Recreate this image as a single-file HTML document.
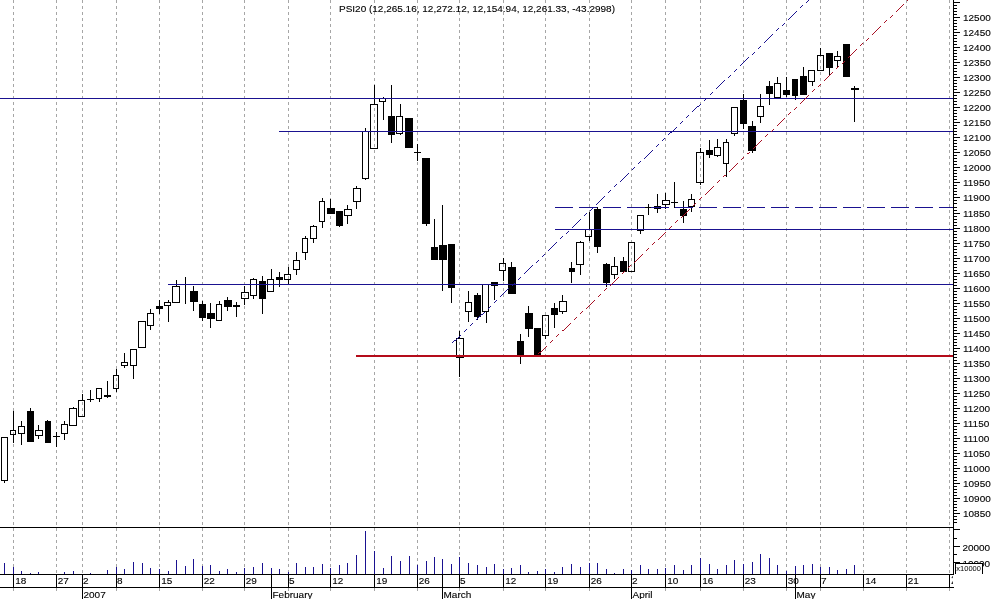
<!DOCTYPE html>
<html><head><meta charset="utf-8"><title>PSI20</title>
<style>html,body{margin:0;padding:0;background:#fff;}body{width:994px;height:599px;overflow:hidden;position:relative;font-family:"Liberation Sans",sans-serif;}</style>
</head><body>
<svg width="994" height="599" viewBox="0 0 994 599" style="position:absolute;left:0;top:0;will-change:transform;filter:blur(0.3px)">
<rect x="0" y="0" width="994" height="599" fill="#fff"/>
<g shape-rendering="crispEdges" stroke="#a6a6a6" stroke-width="1" stroke-dasharray="3 3">
<line x1="13.5" y1="0" x2="13.5" y2="591"/>
<line x1="56.5" y1="0" x2="56.5" y2="591"/>
<line x1="82.5" y1="0" x2="82.5" y2="591"/>
<line x1="116.5" y1="0" x2="116.5" y2="591"/>
<line x1="159.5" y1="0" x2="159.5" y2="591"/>
<line x1="202.5" y1="0" x2="202.5" y2="591"/>
<line x1="244.5" y1="0" x2="244.5" y2="591"/>
<line x1="288.5" y1="0" x2="288.5" y2="591"/>
<line x1="330.5" y1="0" x2="330.5" y2="591"/>
<line x1="374.5" y1="0" x2="374.5" y2="591"/>
<line x1="417.5" y1="0" x2="417.5" y2="591"/>
<line x1="459.5" y1="0" x2="459.5" y2="591"/>
<line x1="503.5" y1="0" x2="503.5" y2="591"/>
<line x1="545.5" y1="0" x2="545.5" y2="591"/>
<line x1="589.5" y1="0" x2="589.5" y2="591"/>
<line x1="631.5" y1="0" x2="631.5" y2="591"/>
<line x1="665.5" y1="0" x2="665.5" y2="591"/>
<line x1="700.5" y1="0" x2="700.5" y2="591"/>
<line x1="743.5" y1="0" x2="743.5" y2="591"/>
<line x1="786.5" y1="0" x2="786.5" y2="591"/>
<line x1="820.5" y1="0" x2="820.5" y2="591"/>
<line x1="863.5" y1="0" x2="863.5" y2="591"/>
<line x1="906.5" y1="0" x2="906.5" y2="591"/>
<line x1="949.5" y1="0" x2="949.5" y2="591"/>
</g>
<g shape-rendering="crispEdges" stroke="#000" stroke-width="1">
<line x1="4.5" y1="481" x2="4.5" y2="483"/>
<rect x="1.5" y="437.5" width="6" height="43" fill="none"/>
<line x1="13.5" y1="411" x2="13.5" y2="430"/>
<line x1="13.5" y1="435" x2="13.5" y2="443"/>
<rect x="10.5" y="430.5" width="5" height="4" fill="none"/>
<line x1="21.5" y1="421" x2="21.5" y2="426"/>
<line x1="21.5" y1="434" x2="21.5" y2="445"/>
<rect x="18.5" y="426.5" width="6" height="7" fill="none"/>
<line x1="30.5" y1="408" x2="30.5" y2="411"/>
<rect x="27.5" y="411.5" width="6" height="30" fill="#000"/>
<line x1="38.5" y1="425" x2="38.5" y2="430"/>
<line x1="38.5" y1="436" x2="38.5" y2="439"/>
<rect x="35.5" y="430.5" width="7" height="5" fill="none"/>
<line x1="47.5" y1="420" x2="47.5" y2="421"/>
<rect x="45.5" y="421.5" width="5" height="21" fill="#000"/>
<line x1="56.5" y1="432" x2="56.5" y2="447"/>
<line x1="53" y1="436.5" x2="60" y2="436.5"/>
<line x1="64.5" y1="421" x2="64.5" y2="424"/>
<line x1="64.5" y1="434" x2="64.5" y2="440"/>
<rect x="61.5" y="424.5" width="6" height="9" fill="none"/>
<line x1="73.5" y1="407" x2="73.5" y2="408"/>
<rect x="69.5" y="408.5" width="7" height="17" fill="none"/>
<line x1="82.5" y1="394" x2="82.5" y2="400"/>
<rect x="78.5" y="400.5" width="6" height="16" fill="none"/>
<line x1="90.5" y1="390" x2="90.5" y2="402"/>
<line x1="87" y1="399.5" x2="94" y2="399.5"/>
<line x1="99.5" y1="399" x2="99.5" y2="402"/>
<rect x="96.5" y="388.5" width="5" height="10" fill="none"/>
<line x1="107.5" y1="381" x2="107.5" y2="398"/>
<rect x="104" y="395" width="7" height="2" fill="#000" stroke="none"/>
<line x1="116.5" y1="369" x2="116.5" y2="375"/>
<line x1="116.5" y1="389" x2="116.5" y2="392"/>
<rect x="113.5" y="375.5" width="5" height="13" fill="none"/>
<line x1="124.5" y1="353" x2="124.5" y2="362"/>
<line x1="124.5" y1="366" x2="124.5" y2="368"/>
<rect x="121.5" y="362.5" width="6" height="3" fill="none"/>
<line x1="133.5" y1="366" x2="133.5" y2="379"/>
<rect x="130.5" y="349.5" width="6" height="16" fill="none"/>
<rect x="138.5" y="321.5" width="7" height="26" fill="none"/>
<line x1="150.5" y1="309" x2="150.5" y2="313"/>
<line x1="150.5" y1="326" x2="150.5" y2="330"/>
<rect x="147.5" y="313.5" width="6" height="12" fill="none"/>
<line x1="159.5" y1="300" x2="159.5" y2="306"/>
<line x1="159.5" y1="309" x2="159.5" y2="314"/>
<rect x="156.5" y="306.5" width="6" height="2" fill="#000"/>
<line x1="168.5" y1="300" x2="168.5" y2="302"/>
<line x1="168.5" y1="306" x2="168.5" y2="322"/>
<rect x="164.5" y="302.5" width="6" height="3" fill="none"/>
<line x1="176.5" y1="280" x2="176.5" y2="286"/>
<rect x="172.5" y="286.5" width="7" height="16" fill="none"/>
<line x1="185.5" y1="277" x2="185.5" y2="304"/>
<line x1="193.5" y1="286" x2="193.5" y2="291"/>
<line x1="193.5" y1="302" x2="193.5" y2="311"/>
<rect x="190.5" y="291.5" width="7" height="10" fill="#000"/>
<line x1="202.5" y1="301" x2="202.5" y2="304"/>
<line x1="202.5" y1="318" x2="202.5" y2="321"/>
<rect x="199.5" y="304.5" width="6" height="13" fill="#000"/>
<line x1="210.5" y1="303" x2="210.5" y2="313"/>
<line x1="210.5" y1="319" x2="210.5" y2="328"/>
<rect x="207.5" y="313.5" width="7" height="5" fill="#000"/>
<line x1="219.5" y1="301" x2="219.5" y2="304"/>
<rect x="216.5" y="304.5" width="5" height="16" fill="none"/>
<line x1="227.5" y1="297" x2="227.5" y2="300"/>
<line x1="227.5" y1="307" x2="227.5" y2="311"/>
<rect x="224.5" y="300.5" width="7" height="6" fill="#000"/>
<line x1="236.5" y1="302" x2="236.5" y2="317"/>
<rect x="233" y="305" width="7" height="2" fill="#000" stroke="none"/>
<line x1="244.5" y1="286" x2="244.5" y2="292"/>
<line x1="244.5" y1="299" x2="244.5" y2="305"/>
<rect x="241.5" y="292.5" width="7" height="6" fill="none"/>
<line x1="253.5" y1="278" x2="253.5" y2="279"/>
<line x1="253.5" y1="296" x2="253.5" y2="299"/>
<rect x="250.5" y="279.5" width="6" height="16" fill="none"/>
<line x1="262.5" y1="276" x2="262.5" y2="281"/>
<line x1="262.5" y1="299" x2="262.5" y2="314"/>
<rect x="259.5" y="281.5" width="6" height="17" fill="#000"/>
<line x1="271.5" y1="269" x2="271.5" y2="279"/>
<rect x="267.5" y="279.5" width="6" height="12" fill="none"/>
<line x1="279.5" y1="272" x2="279.5" y2="277"/>
<line x1="279.5" y1="280" x2="279.5" y2="287"/>
<rect x="276.5" y="277.5" width="6" height="2" fill="#000"/>
<line x1="288.5" y1="267" x2="288.5" y2="274"/>
<line x1="288.5" y1="280" x2="288.5" y2="284"/>
<rect x="284.5" y="274.5" width="6" height="5" fill="none"/>
<line x1="296.5" y1="252" x2="296.5" y2="260"/>
<line x1="296.5" y1="270" x2="296.5" y2="275"/>
<rect x="293.5" y="260.5" width="6" height="9" fill="none"/>
<line x1="305.5" y1="236" x2="305.5" y2="238"/>
<line x1="305.5" y1="253" x2="305.5" y2="260"/>
<rect x="302.5" y="238.5" width="5" height="14" fill="none"/>
<line x1="313.5" y1="225" x2="313.5" y2="226"/>
<line x1="313.5" y1="239" x2="313.5" y2="243"/>
<rect x="310.5" y="226.5" width="6" height="12" fill="none"/>
<line x1="322.5" y1="198" x2="322.5" y2="201"/>
<line x1="322.5" y1="222" x2="322.5" y2="228"/>
<rect x="319.5" y="201.5" width="5" height="20" fill="none"/>
<line x1="330.5" y1="199" x2="330.5" y2="208"/>
<rect x="327.5" y="208.5" width="7" height="5" fill="#000"/>
<line x1="339.5" y1="226" x2="339.5" y2="227"/>
<rect x="336.5" y="211.5" width="6" height="14" fill="#000"/>
<line x1="347.5" y1="205" x2="347.5" y2="209"/>
<line x1="347.5" y1="216" x2="347.5" y2="224"/>
<rect x="344.5" y="209.5" width="7" height="6" fill="none"/>
<line x1="356.5" y1="186" x2="356.5" y2="188"/>
<line x1="356.5" y1="202" x2="356.5" y2="209"/>
<rect x="353.5" y="188.5" width="7" height="13" fill="none"/>
<line x1="365.5" y1="128" x2="365.5" y2="131"/>
<line x1="365.5" y1="179" x2="365.5" y2="180"/>
<rect x="362.5" y="131.5" width="6" height="47" fill="none"/>
<line x1="374.5" y1="85" x2="374.5" y2="104"/>
<rect x="370.5" y="104.5" width="7" height="44" fill="none"/>
<line x1="383.5" y1="97" x2="383.5" y2="98"/>
<line x1="383.5" y1="102" x2="383.5" y2="120"/>
<rect x="379.5" y="98.5" width="6" height="3" fill="none"/>
<line x1="391.5" y1="85" x2="391.5" y2="116"/>
<line x1="391.5" y1="135" x2="391.5" y2="143"/>
<rect x="388.5" y="116.5" width="6" height="18" fill="#000"/>
<line x1="400.5" y1="104" x2="400.5" y2="116"/>
<line x1="400.5" y1="134" x2="400.5" y2="135"/>
<rect x="396.5" y="116.5" width="6" height="17" fill="none"/>
<rect x="405.5" y="118.5" width="7" height="29" fill="#000"/>
<line x1="417.5" y1="144" x2="417.5" y2="161"/>
<line x1="414" y1="152.5" x2="421" y2="152.5"/>
<line x1="426.5" y1="224" x2="426.5" y2="226"/>
<rect x="422.5" y="158.5" width="7" height="65" fill="#000"/>
<line x1="434.5" y1="219" x2="434.5" y2="247"/>
<rect x="431.5" y="247.5" width="6" height="12" fill="#000"/>
<line x1="442.5" y1="205" x2="442.5" y2="245"/>
<line x1="442.5" y1="260" x2="442.5" y2="291"/>
<rect x="439.5" y="245.5" width="7" height="14" fill="#000"/>
<line x1="451.5" y1="288" x2="451.5" y2="303"/>
<rect x="448.5" y="244.5" width="6" height="43" fill="#000"/>
<line x1="459.5" y1="331" x2="459.5" y2="338"/>
<line x1="459.5" y1="358" x2="459.5" y2="377"/>
<rect x="456.5" y="338.5" width="7" height="19" fill="none"/>
<line x1="468.5" y1="291" x2="468.5" y2="302"/>
<line x1="468.5" y1="312" x2="468.5" y2="322"/>
<rect x="465.5" y="302.5" width="6" height="9" fill="none"/>
<line x1="477.5" y1="293" x2="477.5" y2="295"/>
<line x1="477.5" y1="317" x2="477.5" y2="320"/>
<rect x="474.5" y="295.5" width="6" height="21" fill="#000"/>
<line x1="486.5" y1="312" x2="486.5" y2="323"/>
<rect x="482.5" y="284.5" width="6" height="27" fill="none"/>
<line x1="494.5" y1="286" x2="494.5" y2="300"/>
<rect x="491.5" y="282.5" width="6" height="3" fill="#000"/>
<line x1="503.5" y1="258" x2="503.5" y2="263"/>
<line x1="503.5" y1="271" x2="503.5" y2="281"/>
<rect x="499.5" y="263.5" width="6" height="7" fill="none"/>
<line x1="511.5" y1="262" x2="511.5" y2="267"/>
<rect x="508.5" y="267.5" width="7" height="26" fill="#000"/>
<line x1="520.5" y1="334" x2="520.5" y2="341"/>
<line x1="520.5" y1="356" x2="520.5" y2="364"/>
<rect x="517.5" y="341.5" width="6" height="14" fill="#000"/>
<line x1="528.5" y1="306" x2="528.5" y2="313"/>
<line x1="528.5" y1="329" x2="528.5" y2="337"/>
<rect x="525.5" y="313.5" width="7" height="15" fill="#000"/>
<rect x="534.5" y="328.5" width="6" height="27" fill="#000"/>
<line x1="545.5" y1="336" x2="545.5" y2="339"/>
<rect x="542.5" y="315.5" width="6" height="20" fill="none"/>
<line x1="554.5" y1="303" x2="554.5" y2="308"/>
<line x1="554.5" y1="315" x2="554.5" y2="328"/>
<rect x="551.5" y="308.5" width="6" height="6" fill="#000"/>
<line x1="562.5" y1="295" x2="562.5" y2="301"/>
<line x1="562.5" y1="312" x2="562.5" y2="314"/>
<rect x="559.5" y="301.5" width="7" height="10" fill="none"/>
<line x1="571.5" y1="262" x2="571.5" y2="268"/>
<line x1="571.5" y1="272" x2="571.5" y2="283"/>
<rect x="569.5" y="268.5" width="5" height="3" fill="#000"/>
<line x1="580.5" y1="241" x2="580.5" y2="242"/>
<line x1="580.5" y1="265" x2="580.5" y2="275"/>
<rect x="576.5" y="242.5" width="7" height="22" fill="none"/>
<line x1="589.5" y1="212" x2="589.5" y2="229"/>
<line x1="589.5" y1="237" x2="589.5" y2="241"/>
<rect x="585.5" y="229.5" width="6" height="7" fill="none"/>
<line x1="597.5" y1="207" x2="597.5" y2="209"/>
<line x1="597.5" y1="247" x2="597.5" y2="253"/>
<rect x="594.5" y="209.5" width="6" height="37" fill="#000"/>
<line x1="606.5" y1="263" x2="606.5" y2="264"/>
<line x1="606.5" y1="283" x2="606.5" y2="287"/>
<rect x="603.5" y="264.5" width="6" height="18" fill="#000"/>
<line x1="614.5" y1="257" x2="614.5" y2="266"/>
<line x1="614.5" y1="275" x2="614.5" y2="279"/>
<rect x="611.5" y="266.5" width="6" height="8" fill="none"/>
<line x1="623.5" y1="257" x2="623.5" y2="261"/>
<rect x="620.5" y="261.5" width="6" height="10" fill="#000"/>
<rect x="628.5" y="242.5" width="6" height="29" fill="none"/>
<line x1="640.5" y1="231" x2="640.5" y2="234"/>
<rect x="637.5" y="215.5" width="6" height="15" fill="none"/>
<line x1="648.5" y1="204" x2="648.5" y2="215"/>
<line x1="645" y1="207.5" x2="652" y2="207.5"/>
<line x1="657.5" y1="194" x2="657.5" y2="206"/>
<line x1="657.5" y1="209" x2="657.5" y2="213"/>
<rect x="654.5" y="206.5" width="6" height="2" fill="#000"/>
<line x1="665.5" y1="193" x2="665.5" y2="200"/>
<line x1="665.5" y1="205" x2="665.5" y2="209"/>
<rect x="662.5" y="200.5" width="7" height="4" fill="none"/>
<line x1="674.5" y1="182" x2="674.5" y2="208"/>
<line x1="671" y1="202.5" x2="678" y2="202.5"/>
<line x1="683.5" y1="201" x2="683.5" y2="209"/>
<line x1="683.5" y1="216" x2="683.5" y2="223"/>
<rect x="680.5" y="209.5" width="6" height="6" fill="#000"/>
<line x1="691.5" y1="194" x2="691.5" y2="199"/>
<line x1="691.5" y1="207" x2="691.5" y2="212"/>
<rect x="688.5" y="199.5" width="6" height="7" fill="none"/>
<line x1="700.5" y1="148" x2="700.5" y2="152"/>
<line x1="700.5" y1="183" x2="700.5" y2="185"/>
<rect x="696.5" y="152.5" width="7" height="30" fill="none"/>
<line x1="709.5" y1="140" x2="709.5" y2="150"/>
<line x1="709.5" y1="155" x2="709.5" y2="158"/>
<rect x="706.5" y="150.5" width="6" height="4" fill="#000"/>
<line x1="717.5" y1="139" x2="717.5" y2="147"/>
<line x1="717.5" y1="156" x2="717.5" y2="157"/>
<rect x="714.5" y="147.5" width="6" height="8" fill="none"/>
<line x1="726.5" y1="139" x2="726.5" y2="142"/>
<line x1="726.5" y1="164" x2="726.5" y2="177"/>
<rect x="723.5" y="142.5" width="5" height="21" fill="none"/>
<line x1="734.5" y1="134" x2="734.5" y2="136"/>
<rect x="731.5" y="107.5" width="6" height="26" fill="none"/>
<line x1="743.5" y1="94" x2="743.5" y2="100"/>
<line x1="743.5" y1="124" x2="743.5" y2="129"/>
<rect x="740.5" y="100.5" width="6" height="23" fill="#000"/>
<line x1="752.5" y1="121" x2="752.5" y2="126"/>
<line x1="752.5" y1="151" x2="752.5" y2="153"/>
<rect x="748.5" y="126.5" width="7" height="24" fill="#000"/>
<line x1="760.5" y1="94" x2="760.5" y2="106"/>
<line x1="760.5" y1="117" x2="760.5" y2="123"/>
<rect x="757.5" y="106.5" width="6" height="10" fill="none"/>
<line x1="769.5" y1="81" x2="769.5" y2="86"/>
<line x1="769.5" y1="94" x2="769.5" y2="105"/>
<rect x="766.5" y="86.5" width="6" height="7" fill="#000"/>
<line x1="777.5" y1="77" x2="777.5" y2="83"/>
<rect x="774.5" y="83.5" width="6" height="14" fill="none"/>
<line x1="786.5" y1="77" x2="786.5" y2="90"/>
<line x1="786.5" y1="95" x2="786.5" y2="97"/>
<rect x="783.5" y="90.5" width="6" height="4" fill="#000"/>
<line x1="795.5" y1="96" x2="795.5" y2="100"/>
<rect x="792.5" y="79.5" width="5" height="16" fill="#000"/>
<line x1="803.5" y1="67" x2="803.5" y2="76"/>
<rect x="800.5" y="76.5" width="6" height="18" fill="#000"/>
<line x1="812.5" y1="82" x2="812.5" y2="86"/>
<rect x="808.5" y="70.5" width="6" height="11" fill="none"/>
<line x1="820.5" y1="48" x2="820.5" y2="55"/>
<rect x="817.5" y="55.5" width="6" height="15" fill="none"/>
<line x1="829.5" y1="68" x2="829.5" y2="76"/>
<rect x="826.5" y="53.5" width="6" height="14" fill="#000"/>
<line x1="837.5" y1="51" x2="837.5" y2="56"/>
<line x1="837.5" y1="61" x2="837.5" y2="68"/>
<rect x="834.5" y="56.5" width="6" height="4" fill="none"/>
<rect x="843.5" y="44.5" width="6" height="32" fill="#000"/>
<line x1="854.5" y1="86" x2="854.5" y2="122"/>
<rect x="851" y="88" width="8" height="2" fill="#000" stroke="none"/>
</g>
<g shape-rendering="crispEdges" stroke="#1a1290" stroke-width="1">
<line x1="0" y1="98.5" x2="953" y2="98.5"/>
<line x1="279" y1="131.5" x2="953" y2="131.5"/>
<line x1="555" y1="207.5" x2="953" y2="207.5" stroke-dasharray="18 6"/>
<line x1="555" y1="229.5" x2="953" y2="229.5"/>
<line x1="168" y1="284.5" x2="953" y2="284.5"/>
</g>
<path d="M452 342h1v1h-1zM453 341h1v1h-1zM454 340h1v1h-1zM455 340h1v1h-1zM456 339h1v1h-1zM457 338h1v1h-1zM458 337h1v1h-1zM459 336h1v1h-1zM460 335h1v1h-1zM464 331h1v1h-1zM465 330h1v1h-1zM466 329h1v1h-1zM470 325h1v1h-1zM471 324h1v1h-1zM472 323h1v1h-1zM476 319h1v1h-1zM477 318h1v1h-1zM478 317h1v1h-1zM479 316h1v1h-1zM480 315h1v1h-1zM481 314h1v1h-1zM482 314h1v1h-1zM483 313h1v1h-1zM484 312h1v1h-1zM488 308h1v1h-1zM489 307h1v1h-1zM490 306h1v1h-1zM494 302h1v1h-1zM495 301h1v1h-1zM496 300h1v1h-1zM500 296h1v1h-1zM501 295h1v1h-1zM502 294h1v1h-1zM503 293h1v1h-1zM504 292h1v1h-1zM505 291h1v1h-1zM506 290h1v1h-1zM507 289h1v1h-1zM508 288h1v1h-1zM512 285h1v1h-1zM513 284h1v1h-1zM514 283h1v1h-1zM518 279h1v1h-1zM519 278h1v1h-1zM520 277h1v1h-1zM524 273h1v1h-1zM525 272h1v1h-1zM526 271h1v1h-1zM527 270h1v1h-1zM528 269h1v1h-1zM529 268h1v1h-1zM530 267h1v1h-1zM531 266h1v1h-1zM532 265h1v1h-1zM536 262h1v1h-1zM537 261h1v1h-1zM538 260h1v1h-1zM542 256h1v1h-1zM543 255h1v1h-1zM544 254h1v1h-1zM548 250h1v1h-1zM549 249h1v1h-1zM550 248h1v1h-1zM551 247h1v1h-1zM552 246h1v1h-1zM553 245h1v1h-1zM554 244h1v1h-1zM555 243h1v1h-1zM556 242h1v1h-1zM560 238h1v1h-1zM561 237h1v1h-1zM562 236h1v1h-1zM566 233h1v1h-1zM567 232h1v1h-1zM568 231h1v1h-1zM572 227h1v1h-1zM573 226h1v1h-1zM574 225h1v1h-1zM575 224h1v1h-1zM576 223h1v1h-1zM577 222h1v1h-1zM578 221h1v1h-1zM579 220h1v1h-1zM580 219h1v1h-1zM584 215h1v1h-1zM585 214h1v1h-1zM586 213h1v1h-1zM590 210h1v1h-1zM591 209h1v1h-1zM592 208h1v1h-1zM596 204h1v1h-1zM597 203h1v1h-1zM598 202h1v1h-1zM599 201h1v1h-1zM600 200h1v1h-1zM601 199h1v1h-1zM602 198h1v1h-1zM603 197h1v1h-1zM604 196h1v1h-1zM608 192h1v1h-1zM609 191h1v1h-1zM610 190h1v1h-1zM614 186h1v1h-1zM615 185h1v1h-1zM616 184h1v1h-1zM620 181h1v1h-1zM621 180h1v1h-1zM622 179h1v1h-1zM623 178h1v1h-1zM624 177h1v1h-1zM625 176h1v1h-1zM626 175h1v1h-1zM627 174h1v1h-1zM628 173h1v1h-1zM632 169h1v1h-1zM633 168h1v1h-1zM634 167h1v1h-1zM638 163h1v1h-1zM639 162h1v1h-1zM640 161h1v1h-1zM644 158h1v1h-1zM645 157h1v1h-1zM646 156h1v1h-1zM647 155h1v1h-1zM648 154h1v1h-1zM649 153h1v1h-1zM650 152h1v1h-1zM651 151h1v1h-1zM652 150h1v1h-1zM656 146h1v1h-1zM657 145h1v1h-1zM658 144h1v1h-1zM662 140h1v1h-1zM663 139h1v1h-1zM664 138h1v1h-1zM668 134h1v1h-1zM669 133h1v1h-1zM670 132h1v1h-1zM671 132h1v1h-1zM672 131h1v1h-1zM673 130h1v1h-1zM674 129h1v1h-1zM675 128h1v1h-1zM676 127h1v1h-1zM680 123h1v1h-1zM681 122h1v1h-1zM682 121h1v1h-1zM686 117h1v1h-1zM687 116h1v1h-1zM688 115h1v1h-1zM692 111h1v1h-1zM693 110h1v1h-1zM694 109h1v1h-1zM695 108h1v1h-1zM696 107h1v1h-1zM697 106h1v1h-1zM698 106h1v1h-1zM699 105h1v1h-1zM700 104h1v1h-1zM704 100h1v1h-1zM705 99h1v1h-1zM706 98h1v1h-1zM710 94h1v1h-1zM711 93h1v1h-1zM712 92h1v1h-1zM716 88h1v1h-1zM717 87h1v1h-1zM718 86h1v1h-1zM719 85h1v1h-1zM720 84h1v1h-1zM721 83h1v1h-1zM722 82h1v1h-1zM723 81h1v1h-1zM724 80h1v1h-1zM728 77h1v1h-1zM729 76h1v1h-1zM730 75h1v1h-1zM734 71h1v1h-1zM735 70h1v1h-1zM736 69h1v1h-1zM740 65h1v1h-1zM741 64h1v1h-1zM742 63h1v1h-1zM743 62h1v1h-1zM744 61h1v1h-1zM745 60h1v1h-1zM746 59h1v1h-1zM747 58h1v1h-1zM748 57h1v1h-1zM752 54h1v1h-1zM753 53h1v1h-1zM754 52h1v1h-1zM758 48h1v1h-1zM759 47h1v1h-1zM760 46h1v1h-1zM764 42h1v1h-1zM765 41h1v1h-1zM766 40h1v1h-1zM767 39h1v1h-1zM768 38h1v1h-1zM769 37h1v1h-1zM770 36h1v1h-1zM771 35h1v1h-1zM772 34h1v1h-1zM776 30h1v1h-1zM777 29h1v1h-1zM778 28h1v1h-1zM782 25h1v1h-1zM783 24h1v1h-1zM784 23h1v1h-1zM788 19h1v1h-1zM789 18h1v1h-1zM790 17h1v1h-1zM791 16h1v1h-1zM792 15h1v1h-1zM793 14h1v1h-1zM794 13h1v1h-1zM795 12h1v1h-1zM796 11h1v1h-1zM800 7h1v1h-1zM801 6h1v1h-1zM802 5h1v1h-1zM806 2h1v1h-1zM807 1h1v1h-1zM808 0h1v1h-1z" fill="#1a1290" shape-rendering="crispEdges"/>
<path d="M538 353h1v1h-1zM539 352h1v1h-1zM540 352h1v1h-1zM541 351h1v1h-1zM542 350h1v1h-1zM543 349h1v1h-1zM544 348h1v1h-1zM545 347h1v1h-1zM546 346h1v1h-1zM550 342h1v1h-1zM551 341h1v1h-1zM552 340h1v1h-1zM556 336h1v1h-1zM557 335h1v1h-1zM558 334h1v1h-1zM562 330h1v1h-1zM563 330h1v1h-1zM564 329h1v1h-1zM565 328h1v1h-1zM566 327h1v1h-1zM567 326h1v1h-1zM568 325h1v1h-1zM569 324h1v1h-1zM570 323h1v1h-1zM574 319h1v1h-1zM575 318h1v1h-1zM576 317h1v1h-1zM580 313h1v1h-1zM581 312h1v1h-1zM582 311h1v1h-1zM586 308h1v1h-1zM587 307h1v1h-1zM588 306h1v1h-1zM589 305h1v1h-1zM590 304h1v1h-1zM591 303h1v1h-1zM592 302h1v1h-1zM593 301h1v1h-1zM594 300h1v1h-1zM598 296h1v1h-1zM599 295h1v1h-1zM600 294h1v1h-1zM604 290h1v1h-1zM605 289h1v1h-1zM606 288h1v1h-1zM610 285h1v1h-1zM611 284h1v1h-1zM612 283h1v1h-1zM613 282h1v1h-1zM614 281h1v1h-1zM615 280h1v1h-1zM616 279h1v1h-1zM617 278h1v1h-1zM618 277h1v1h-1zM622 273h1v1h-1zM623 272h1v1h-1zM624 271h1v1h-1zM628 267h1v1h-1zM629 266h1v1h-1zM630 265h1v1h-1zM634 262h1v1h-1zM635 261h1v1h-1zM636 260h1v1h-1zM637 259h1v1h-1zM638 258h1v1h-1zM639 257h1v1h-1zM640 256h1v1h-1zM641 255h1v1h-1zM642 254h1v1h-1zM646 250h1v1h-1zM647 249h1v1h-1zM648 248h1v1h-1zM652 244h1v1h-1zM653 243h1v1h-1zM654 242h1v1h-1zM658 239h1v1h-1zM659 238h1v1h-1zM660 237h1v1h-1zM661 236h1v1h-1zM662 235h1v1h-1zM663 234h1v1h-1zM664 233h1v1h-1zM665 232h1v1h-1zM669 228h1v1h-1zM670 227h1v1h-1zM671 226h1v1h-1zM675 222h1v1h-1zM676 221h1v1h-1zM677 220h1v1h-1zM681 217h1v1h-1zM682 216h1v1h-1zM683 215h1v1h-1zM684 214h1v1h-1zM685 213h1v1h-1zM686 212h1v1h-1zM687 211h1v1h-1zM688 210h1v1h-1zM689 209h1v1h-1zM693 205h1v1h-1zM694 204h1v1h-1zM695 203h1v1h-1zM699 199h1v1h-1zM700 198h1v1h-1zM701 197h1v1h-1zM705 194h1v1h-1zM706 193h1v1h-1zM707 192h1v1h-1zM708 191h1v1h-1zM709 190h1v1h-1zM710 189h1v1h-1zM711 188h1v1h-1zM712 187h1v1h-1zM713 186h1v1h-1zM717 182h1v1h-1zM718 181h1v1h-1zM719 180h1v1h-1zM723 176h1v1h-1zM724 175h1v1h-1zM725 175h1v1h-1zM729 171h1v1h-1zM730 170h1v1h-1zM731 169h1v1h-1zM732 168h1v1h-1zM733 167h1v1h-1zM734 166h1v1h-1zM735 165h1v1h-1zM736 164h1v1h-1zM737 163h1v1h-1zM741 159h1v1h-1zM742 158h1v1h-1zM743 157h1v1h-1zM747 153h1v1h-1zM748 153h1v1h-1zM749 152h1v1h-1zM753 148h1v1h-1zM754 147h1v1h-1zM755 146h1v1h-1zM756 145h1v1h-1zM757 144h1v1h-1zM758 143h1v1h-1zM759 142h1v1h-1zM760 141h1v1h-1zM761 140h1v1h-1zM765 136h1v1h-1zM766 135h1v1h-1zM767 134h1v1h-1zM771 131h1v1h-1zM772 130h1v1h-1zM773 129h1v1h-1zM777 125h1v1h-1zM778 124h1v1h-1zM779 123h1v1h-1zM780 122h1v1h-1zM781 121h1v1h-1zM782 120h1v1h-1zM783 119h1v1h-1zM784 118h1v1h-1zM788 114h1v1h-1zM789 113h1v1h-1zM790 112h1v1h-1zM794 109h1v1h-1zM795 108h1v1h-1zM796 107h1v1h-1zM800 103h1v1h-1zM801 102h1v1h-1zM802 101h1v1h-1zM803 100h1v1h-1zM804 99h1v1h-1zM805 98h1v1h-1zM806 97h1v1h-1zM807 96h1v1h-1zM808 95h1v1h-1zM812 91h1v1h-1zM813 90h1v1h-1zM814 89h1v1h-1zM818 86h1v1h-1zM819 85h1v1h-1zM820 84h1v1h-1zM824 80h1v1h-1zM825 79h1v1h-1zM826 78h1v1h-1zM827 77h1v1h-1zM828 76h1v1h-1zM829 75h1v1h-1zM830 74h1v1h-1zM831 73h1v1h-1zM832 72h1v1h-1zM836 68h1v1h-1zM837 67h1v1h-1zM838 66h1v1h-1zM842 63h1v1h-1zM843 62h1v1h-1zM844 61h1v1h-1zM848 57h1v1h-1zM849 56h1v1h-1zM850 55h1v1h-1zM851 54h1v1h-1zM852 53h1v1h-1zM853 52h1v1h-1zM854 51h1v1h-1zM855 50h1v1h-1zM856 49h1v1h-1zM860 45h1v1h-1zM861 44h1v1h-1zM862 43h1v1h-1zM866 40h1v1h-1zM867 39h1v1h-1zM868 38h1v1h-1zM872 34h1v1h-1zM873 33h1v1h-1zM874 32h1v1h-1zM875 31h1v1h-1zM876 30h1v1h-1zM877 29h1v1h-1zM878 28h1v1h-1zM879 27h1v1h-1zM880 26h1v1h-1zM884 22h1v1h-1zM885 21h1v1h-1zM886 20h1v1h-1zM890 17h1v1h-1zM891 16h1v1h-1zM892 15h1v1h-1zM896 11h1v1h-1zM897 10h1v1h-1zM898 9h1v1h-1zM899 8h1v1h-1zM900 7h1v1h-1zM901 6h1v1h-1zM902 5h1v1h-1zM903 4h1v1h-1zM907 0h1v1h-1z" fill="#a81024" shape-rendering="crispEdges"/>
<rect x="356" y="355" width="597" height="2" fill="#b40c1a" shape-rendering="crispEdges"/>
<g shape-rendering="crispEdges" fill="#1a1290">
<rect x="4" y="563" width="1" height="11"/>
<rect x="13" y="567" width="1" height="7"/>
<rect x="21" y="571" width="1" height="3"/>
<rect x="30" y="573" width="1" height="1"/>
<rect x="38" y="572" width="1" height="2"/>
<rect x="64" y="572" width="1" height="2"/>
<rect x="73" y="571" width="1" height="3"/>
<rect x="90" y="573" width="1" height="1"/>
<rect x="107" y="570" width="1" height="4"/>
<rect x="116" y="567" width="1" height="7"/>
<rect x="124" y="569" width="1" height="5"/>
<rect x="133" y="562" width="1" height="12"/>
<rect x="142" y="563" width="1" height="11"/>
<rect x="150" y="568" width="1" height="6"/>
<rect x="159" y="569" width="1" height="5"/>
<rect x="168" y="571" width="1" height="3"/>
<rect x="176" y="560" width="1" height="14"/>
<rect x="185" y="566" width="1" height="8"/>
<rect x="193" y="559" width="1" height="15"/>
<rect x="202" y="566" width="1" height="8"/>
<rect x="210" y="565" width="1" height="9"/>
<rect x="219" y="571" width="1" height="3"/>
<rect x="227" y="569" width="1" height="5"/>
<rect x="236" y="572" width="1" height="2"/>
<rect x="244" y="568" width="1" height="6"/>
<rect x="253" y="567" width="1" height="7"/>
<rect x="262" y="563" width="1" height="11"/>
<rect x="271" y="568" width="1" height="6"/>
<rect x="279" y="569" width="1" height="5"/>
<rect x="288" y="572" width="1" height="2"/>
<rect x="296" y="563" width="1" height="11"/>
<rect x="305" y="567" width="1" height="7"/>
<rect x="313" y="567" width="1" height="7"/>
<rect x="322" y="564" width="1" height="10"/>
<rect x="330" y="568" width="1" height="6"/>
<rect x="339" y="565" width="1" height="9"/>
<rect x="347" y="563" width="1" height="11"/>
<rect x="356" y="555" width="1" height="19"/>
<rect x="365" y="531" width="1" height="43"/>
<rect x="374" y="551" width="1" height="23"/>
<rect x="383" y="568" width="1" height="6"/>
<rect x="391" y="556" width="1" height="18"/>
<rect x="400" y="561" width="1" height="13"/>
<rect x="409" y="556" width="1" height="18"/>
<rect x="417" y="565" width="1" height="9"/>
<rect x="426" y="561" width="1" height="13"/>
<rect x="434" y="557" width="1" height="17"/>
<rect x="442" y="559" width="1" height="15"/>
<rect x="451" y="564" width="1" height="10"/>
<rect x="459" y="557" width="1" height="17"/>
<rect x="468" y="563" width="1" height="11"/>
<rect x="477" y="565" width="1" height="9"/>
<rect x="486" y="567" width="1" height="7"/>
<rect x="494" y="564" width="1" height="10"/>
<rect x="503" y="569" width="1" height="5"/>
<rect x="511" y="568" width="1" height="6"/>
<rect x="520" y="565" width="1" height="9"/>
<rect x="528" y="572" width="1" height="2"/>
<rect x="537" y="571" width="1" height="3"/>
<rect x="545" y="569" width="1" height="5"/>
<rect x="554" y="572" width="1" height="2"/>
<rect x="562" y="567" width="1" height="7"/>
<rect x="571" y="564" width="1" height="10"/>
<rect x="580" y="567" width="1" height="7"/>
<rect x="589" y="563" width="1" height="11"/>
<rect x="597" y="563" width="1" height="11"/>
<rect x="606" y="569" width="1" height="5"/>
<rect x="614" y="573" width="1" height="1"/>
<rect x="623" y="569" width="1" height="5"/>
<rect x="631" y="570" width="1" height="4"/>
<rect x="640" y="565" width="1" height="9"/>
<rect x="648" y="569" width="1" height="5"/>
<rect x="657" y="569" width="1" height="5"/>
<rect x="665" y="568" width="1" height="6"/>
<rect x="674" y="565" width="1" height="9"/>
<rect x="683" y="570" width="1" height="4"/>
<rect x="691" y="565" width="1" height="9"/>
<rect x="700" y="558" width="1" height="16"/>
<rect x="709" y="564" width="1" height="10"/>
<rect x="717" y="569" width="1" height="5"/>
<rect x="726" y="565" width="1" height="9"/>
<rect x="734" y="560" width="1" height="14"/>
<rect x="743" y="564" width="1" height="10"/>
<rect x="752" y="562" width="1" height="12"/>
<rect x="760" y="554" width="1" height="20"/>
<rect x="769" y="558" width="1" height="16"/>
<rect x="777" y="565" width="1" height="9"/>
<rect x="786" y="571" width="1" height="3"/>
<rect x="795" y="566" width="1" height="8"/>
<rect x="803" y="565" width="1" height="9"/>
<rect x="812" y="564" width="1" height="10"/>
<rect x="820" y="567" width="1" height="7"/>
<rect x="829" y="567" width="1" height="7"/>
<rect x="837" y="570" width="1" height="4"/>
<rect x="846" y="569" width="1" height="5"/>
<rect x="854" y="565" width="1" height="9"/>
</g>
<g shape-rendering="crispEdges" fill="#000">
<rect x="0" y="527" width="954" height="1"/>
<rect x="0" y="574" width="954" height="1"/>
<rect x="0" y="587" width="954" height="1"/>
<rect x="953" y="0" width="1" height="575"/>
<rect x="13" y="574" width="1" height="14"/>
<rect x="56" y="574" width="1" height="14"/>
<rect x="82" y="574" width="1" height="14"/>
<rect x="116" y="574" width="1" height="14"/>
<rect x="159" y="574" width="1" height="14"/>
<rect x="202" y="574" width="1" height="14"/>
<rect x="244" y="574" width="1" height="14"/>
<rect x="288" y="574" width="1" height="14"/>
<rect x="330" y="574" width="1" height="14"/>
<rect x="374" y="574" width="1" height="14"/>
<rect x="417" y="574" width="1" height="14"/>
<rect x="459" y="574" width="1" height="14"/>
<rect x="503" y="574" width="1" height="14"/>
<rect x="545" y="574" width="1" height="14"/>
<rect x="589" y="574" width="1" height="14"/>
<rect x="631" y="574" width="1" height="14"/>
<rect x="665" y="574" width="1" height="14"/>
<rect x="700" y="574" width="1" height="14"/>
<rect x="743" y="574" width="1" height="14"/>
<rect x="786" y="574" width="1" height="14"/>
<rect x="820" y="574" width="1" height="14"/>
<rect x="863" y="574" width="1" height="14"/>
<rect x="906" y="574" width="1" height="14"/>
<rect x="949" y="574" width="1" height="14"/>
<rect x="82" y="574" width="1" height="25"/>
<rect x="271" y="574" width="1" height="25"/>
<rect x="442" y="574" width="1" height="25"/>
<rect x="631" y="574" width="1" height="25"/>
<rect x="795" y="574" width="1" height="25"/>
<rect x="954" y="2" width="6" height="1"/>
<rect x="954" y="5" width="3" height="1"/>
<rect x="954" y="8" width="3" height="1"/>
<rect x="954" y="11" width="3" height="1"/>
<rect x="954" y="14" width="3" height="1"/>
<rect x="954" y="17" width="6" height="1"/>
<rect x="954" y="20" width="3" height="1"/>
<rect x="954" y="23" width="3" height="1"/>
<rect x="954" y="26" width="3" height="1"/>
<rect x="954" y="29" width="3" height="1"/>
<rect x="954" y="32" width="6" height="1"/>
<rect x="954" y="35" width="3" height="1"/>
<rect x="954" y="38" width="3" height="1"/>
<rect x="954" y="41" width="3" height="1"/>
<rect x="954" y="44" width="3" height="1"/>
<rect x="954" y="47" width="6" height="1"/>
<rect x="954" y="50" width="3" height="1"/>
<rect x="954" y="53" width="3" height="1"/>
<rect x="954" y="56" width="3" height="1"/>
<rect x="954" y="59" width="3" height="1"/>
<rect x="954" y="62" width="6" height="1"/>
<rect x="954" y="65" width="3" height="1"/>
<rect x="954" y="68" width="3" height="1"/>
<rect x="954" y="71" width="3" height="1"/>
<rect x="954" y="74" width="3" height="1"/>
<rect x="954" y="77" width="6" height="1"/>
<rect x="954" y="80" width="3" height="1"/>
<rect x="954" y="83" width="3" height="1"/>
<rect x="954" y="86" width="3" height="1"/>
<rect x="954" y="89" width="3" height="1"/>
<rect x="954" y="92" width="6" height="1"/>
<rect x="954" y="95" width="3" height="1"/>
<rect x="954" y="98" width="3" height="1"/>
<rect x="954" y="101" width="3" height="1"/>
<rect x="954" y="104" width="3" height="1"/>
<rect x="954" y="107" width="6" height="1"/>
<rect x="954" y="110" width="3" height="1"/>
<rect x="954" y="113" width="3" height="1"/>
<rect x="954" y="116" width="3" height="1"/>
<rect x="954" y="119" width="3" height="1"/>
<rect x="954" y="122" width="6" height="1"/>
<rect x="954" y="125" width="3" height="1"/>
<rect x="954" y="128" width="3" height="1"/>
<rect x="954" y="131" width="3" height="1"/>
<rect x="954" y="134" width="3" height="1"/>
<rect x="954" y="137" width="6" height="1"/>
<rect x="954" y="140" width="3" height="1"/>
<rect x="954" y="143" width="3" height="1"/>
<rect x="954" y="146" width="3" height="1"/>
<rect x="954" y="149" width="3" height="1"/>
<rect x="954" y="152" width="6" height="1"/>
<rect x="954" y="155" width="3" height="1"/>
<rect x="954" y="158" width="3" height="1"/>
<rect x="954" y="161" width="3" height="1"/>
<rect x="954" y="164" width="3" height="1"/>
<rect x="954" y="167" width="6" height="1"/>
<rect x="954" y="170" width="3" height="1"/>
<rect x="954" y="173" width="3" height="1"/>
<rect x="954" y="176" width="3" height="1"/>
<rect x="954" y="179" width="3" height="1"/>
<rect x="954" y="182" width="6" height="1"/>
<rect x="954" y="185" width="3" height="1"/>
<rect x="954" y="188" width="3" height="1"/>
<rect x="954" y="191" width="3" height="1"/>
<rect x="954" y="194" width="3" height="1"/>
<rect x="954" y="197" width="6" height="1"/>
<rect x="954" y="200" width="3" height="1"/>
<rect x="954" y="203" width="3" height="1"/>
<rect x="954" y="207" width="3" height="1"/>
<rect x="954" y="210" width="3" height="1"/>
<rect x="954" y="213" width="6" height="1"/>
<rect x="954" y="216" width="3" height="1"/>
<rect x="954" y="219" width="3" height="1"/>
<rect x="954" y="222" width="3" height="1"/>
<rect x="954" y="225" width="3" height="1"/>
<rect x="954" y="228" width="6" height="1"/>
<rect x="954" y="231" width="3" height="1"/>
<rect x="954" y="234" width="3" height="1"/>
<rect x="954" y="237" width="3" height="1"/>
<rect x="954" y="240" width="3" height="1"/>
<rect x="954" y="243" width="6" height="1"/>
<rect x="954" y="246" width="3" height="1"/>
<rect x="954" y="249" width="3" height="1"/>
<rect x="954" y="252" width="3" height="1"/>
<rect x="954" y="255" width="3" height="1"/>
<rect x="954" y="258" width="6" height="1"/>
<rect x="954" y="261" width="3" height="1"/>
<rect x="954" y="264" width="3" height="1"/>
<rect x="954" y="267" width="3" height="1"/>
<rect x="954" y="270" width="3" height="1"/>
<rect x="954" y="273" width="6" height="1"/>
<rect x="954" y="276" width="3" height="1"/>
<rect x="954" y="279" width="3" height="1"/>
<rect x="954" y="282" width="3" height="1"/>
<rect x="954" y="285" width="3" height="1"/>
<rect x="954" y="288" width="6" height="1"/>
<rect x="954" y="291" width="3" height="1"/>
<rect x="954" y="294" width="3" height="1"/>
<rect x="954" y="297" width="3" height="1"/>
<rect x="954" y="300" width="3" height="1"/>
<rect x="954" y="303" width="6" height="1"/>
<rect x="954" y="306" width="3" height="1"/>
<rect x="954" y="309" width="3" height="1"/>
<rect x="954" y="312" width="3" height="1"/>
<rect x="954" y="315" width="3" height="1"/>
<rect x="954" y="318" width="6" height="1"/>
<rect x="954" y="321" width="3" height="1"/>
<rect x="954" y="324" width="3" height="1"/>
<rect x="954" y="327" width="3" height="1"/>
<rect x="954" y="330" width="3" height="1"/>
<rect x="954" y="333" width="6" height="1"/>
<rect x="954" y="336" width="3" height="1"/>
<rect x="954" y="339" width="3" height="1"/>
<rect x="954" y="342" width="3" height="1"/>
<rect x="954" y="345" width="3" height="1"/>
<rect x="954" y="348" width="6" height="1"/>
<rect x="954" y="351" width="3" height="1"/>
<rect x="954" y="354" width="3" height="1"/>
<rect x="954" y="357" width="3" height="1"/>
<rect x="954" y="360" width="3" height="1"/>
<rect x="954" y="363" width="6" height="1"/>
<rect x="954" y="366" width="3" height="1"/>
<rect x="954" y="369" width="3" height="1"/>
<rect x="954" y="372" width="3" height="1"/>
<rect x="954" y="375" width="3" height="1"/>
<rect x="954" y="378" width="6" height="1"/>
<rect x="954" y="381" width="3" height="1"/>
<rect x="954" y="384" width="3" height="1"/>
<rect x="954" y="387" width="3" height="1"/>
<rect x="954" y="390" width="3" height="1"/>
<rect x="954" y="393" width="6" height="1"/>
<rect x="954" y="396" width="3" height="1"/>
<rect x="954" y="399" width="3" height="1"/>
<rect x="954" y="402" width="3" height="1"/>
<rect x="954" y="405" width="3" height="1"/>
<rect x="954" y="408" width="6" height="1"/>
<rect x="954" y="411" width="3" height="1"/>
<rect x="954" y="414" width="3" height="1"/>
<rect x="954" y="417" width="3" height="1"/>
<rect x="954" y="420" width="3" height="1"/>
<rect x="954" y="423" width="6" height="1"/>
<rect x="954" y="426" width="3" height="1"/>
<rect x="954" y="429" width="3" height="1"/>
<rect x="954" y="432" width="3" height="1"/>
<rect x="954" y="435" width="3" height="1"/>
<rect x="954" y="438" width="6" height="1"/>
<rect x="954" y="441" width="3" height="1"/>
<rect x="954" y="444" width="3" height="1"/>
<rect x="954" y="447" width="3" height="1"/>
<rect x="954" y="450" width="3" height="1"/>
<rect x="954" y="453" width="6" height="1"/>
<rect x="954" y="456" width="3" height="1"/>
<rect x="954" y="459" width="3" height="1"/>
<rect x="954" y="462" width="3" height="1"/>
<rect x="954" y="465" width="3" height="1"/>
<rect x="954" y="468" width="6" height="1"/>
<rect x="954" y="471" width="3" height="1"/>
<rect x="954" y="474" width="3" height="1"/>
<rect x="954" y="477" width="3" height="1"/>
<rect x="954" y="480" width="3" height="1"/>
<rect x="954" y="483" width="6" height="1"/>
<rect x="954" y="486" width="3" height="1"/>
<rect x="954" y="489" width="3" height="1"/>
<rect x="954" y="492" width="3" height="1"/>
<rect x="954" y="495" width="3" height="1"/>
<rect x="954" y="498" width="6" height="1"/>
<rect x="954" y="501" width="3" height="1"/>
<rect x="954" y="504" width="3" height="1"/>
<rect x="954" y="507" width="3" height="1"/>
<rect x="954" y="510" width="3" height="1"/>
<rect x="954" y="513" width="6" height="1"/>
<rect x="954" y="516" width="3" height="1"/>
<rect x="954" y="519" width="3" height="1"/>
<rect x="954" y="522" width="3" height="1"/>
<rect x="954" y="529" width="6" height="1"/>
<rect x="954" y="538" width="3" height="1"/>
<rect x="954" y="546" width="6" height="1"/>
<rect x="954" y="554" width="3" height="1"/>
<rect x="954" y="562" width="6" height="1"/>
</g>
<g font-family="Liberation Sans, sans-serif" fill="#000" stroke="#000" stroke-width="0.12">
<text transform="translate(339.0,11.9) scale(1,0.88)" font-size="10px">PSI20 (12,265.16, 12,272.12, 12,154.94, 12,261.33, -43.2998)</text>
<text transform="translate(963.0,21.2) scale(1,0.90)" font-size="10px">12500</text>
<text transform="translate(963.0,36.2) scale(1,0.90)" font-size="10px">12450</text>
<text transform="translate(963.0,51.2) scale(1,0.90)" font-size="10px">12400</text>
<text transform="translate(963.0,66.2) scale(1,0.90)" font-size="10px">12350</text>
<text transform="translate(963.0,81.2) scale(1,0.90)" font-size="10px">12300</text>
<text transform="translate(963.0,96.2) scale(1,0.90)" font-size="10px">12250</text>
<text transform="translate(963.0,111.2) scale(1,0.90)" font-size="10px">12200</text>
<text transform="translate(963.0,126.2) scale(1,0.90)" font-size="10px">12150</text>
<text transform="translate(963.0,141.2) scale(1,0.90)" font-size="10px">12100</text>
<text transform="translate(963.0,156.2) scale(1,0.90)" font-size="10px">12050</text>
<text transform="translate(963.0,171.2) scale(1,0.90)" font-size="10px">12000</text>
<text transform="translate(963.0,186.2) scale(1,0.90)" font-size="10px">11950</text>
<text transform="translate(963.0,201.2) scale(1,0.90)" font-size="10px">11900</text>
<text transform="translate(963.0,217.2) scale(1,0.90)" font-size="10px">11850</text>
<text transform="translate(963.0,232.2) scale(1,0.90)" font-size="10px">11800</text>
<text transform="translate(963.0,247.2) scale(1,0.90)" font-size="10px">11750</text>
<text transform="translate(963.0,262.2) scale(1,0.90)" font-size="10px">11700</text>
<text transform="translate(963.0,277.2) scale(1,0.90)" font-size="10px">11650</text>
<text transform="translate(963.0,292.2) scale(1,0.90)" font-size="10px">11600</text>
<text transform="translate(963.0,307.2) scale(1,0.90)" font-size="10px">11550</text>
<text transform="translate(963.0,322.2) scale(1,0.90)" font-size="10px">11500</text>
<text transform="translate(963.0,337.2) scale(1,0.90)" font-size="10px">11450</text>
<text transform="translate(963.0,352.2) scale(1,0.90)" font-size="10px">11400</text>
<text transform="translate(963.0,367.2) scale(1,0.90)" font-size="10px">11350</text>
<text transform="translate(963.0,382.2) scale(1,0.90)" font-size="10px">11300</text>
<text transform="translate(963.0,397.2) scale(1,0.90)" font-size="10px">11250</text>
<text transform="translate(963.0,412.2) scale(1,0.90)" font-size="10px">11200</text>
<text transform="translate(963.0,427.2) scale(1,0.90)" font-size="10px">11150</text>
<text transform="translate(963.0,442.2) scale(1,0.90)" font-size="10px">11100</text>
<text transform="translate(963.0,457.2) scale(1,0.90)" font-size="10px">11050</text>
<text transform="translate(963.0,472.2) scale(1,0.90)" font-size="10px">11000</text>
<text transform="translate(963.0,487.2) scale(1,0.90)" font-size="10px">10950</text>
<text transform="translate(963.0,502.2) scale(1,0.90)" font-size="10px">10900</text>
<text transform="translate(963.0,517.2) scale(1,0.90)" font-size="10px">10850</text>
<text transform="translate(962.4,551.2) scale(1,0.90)" font-size="10px">20000</text>
<text transform="translate(962.4,567.0) scale(1,0.90)" font-size="10px">10000</text>
<text transform="translate(15.2,584.2) scale(1,0.98)" font-size="10px">18</text>
<text transform="translate(57.8,584.2) scale(1,0.98)" font-size="10px">27</text>
<text transform="translate(83.0,584.2) scale(1,0.98)" font-size="10px">2</text>
<text transform="translate(117.0,584.2) scale(1,0.98)" font-size="10px">8</text>
<text transform="translate(161.2,584.2) scale(1,0.98)" font-size="10px">15</text>
<text transform="translate(203.8,584.2) scale(1,0.98)" font-size="10px">22</text>
<text transform="translate(245.8,584.2) scale(1,0.98)" font-size="10px">29</text>
<text transform="translate(289.0,584.2) scale(1,0.98)" font-size="10px">5</text>
<text transform="translate(332.2,584.2) scale(1,0.98)" font-size="10px">12</text>
<text transform="translate(376.2,584.2) scale(1,0.98)" font-size="10px">19</text>
<text transform="translate(418.8,584.2) scale(1,0.98)" font-size="10px">26</text>
<text transform="translate(460.0,584.2) scale(1,0.98)" font-size="10px">5</text>
<text transform="translate(505.2,584.2) scale(1,0.98)" font-size="10px">12</text>
<text transform="translate(547.2,584.2) scale(1,0.98)" font-size="10px">19</text>
<text transform="translate(590.8,584.2) scale(1,0.98)" font-size="10px">26</text>
<text transform="translate(632.0,584.2) scale(1,0.98)" font-size="10px">2</text>
<text transform="translate(667.2,584.2) scale(1,0.98)" font-size="10px">10</text>
<text transform="translate(702.2,584.2) scale(1,0.98)" font-size="10px">16</text>
<text transform="translate(744.8,584.2) scale(1,0.98)" font-size="10px">23</text>
<text transform="translate(787.8,584.2) scale(1,0.98)" font-size="10px">30</text>
<text transform="translate(821.0,584.2) scale(1,0.98)" font-size="10px">7</text>
<text transform="translate(865.2,584.2) scale(1,0.98)" font-size="10px">14</text>
<text transform="translate(907.8,584.2) scale(1,0.98)" font-size="10px">21</text>
<text transform="translate(83.5,598.2) scale(1,0.96)" font-size="10px">2007</text>
<text transform="translate(272.5,598.2) scale(1,0.96)" font-size="10px">February</text>
<text transform="translate(443.5,598.2) scale(1,0.96)" font-size="10px">March</text>
<text transform="translate(632.5,598.2) scale(1,0.96)" font-size="10px">April</text>
<text transform="translate(796.5,598.2) scale(1,0.96)" font-size="10px">May</text>
</g>
<svg x="950" y="575" width="3" height="12" overflow="hidden"><text x="1" y="9" font-family="Liberation Sans, sans-serif" font-size="10px">28</text></svg>
<g shape-rendering="crispEdges"><rect x="955" y="563" width="28" height="11" fill="#fff"/><rect x="955" y="563" width="28" height="1" fill="#000"/><rect x="955" y="563" width="1" height="11" fill="#000"/><rect x="982" y="563" width="1" height="11" fill="#000"/></g>
<text x="956.3" y="570.7" font-family="Liberation Sans, sans-serif" font-size="7.5px" fill="#000">x10000</text>
</svg>
</body></html>
